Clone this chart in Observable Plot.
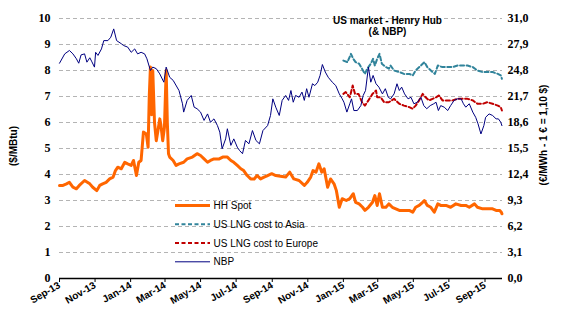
<!DOCTYPE html>
<html>
<head>
<meta charset="utf-8">
<script src="https://cdn.jsdelivr.net/npm/d3@7"></script>
<script src="https://cdn.jsdelivr.net/npm/@observablehq/plot@0.6"></script>
<style>
  html, body { margin: 0; padding: 0; background: #fff; }
  #chart { position: relative; width: 562px; height: 326px; }
</style>
</head>
<body>
<div id="chart"></div>
<script>
const titleLines = ["US market - Henry Hub", "(& NBP)"];
const leftLabel = "($/MBtu)";
const rightLabel = "(€/MWh - 1 € = 1,10 $)";
const seriesNames = ["HH Spot", "US LNG cost to Asia", "US LNG cost to Europe", "NBP"];
const yTicks = [0, 1, 2, 3, 4, 5, 6, 7, 8, 9, 10];
const rightTickLabels = ["0,0", "3,1", "6,2", "9,3", "12,4", "15,5", "18,6", "21,7", "24,8", "27,9", "31,0"];
const xTicks = ["2013-09-01","2013-11-01","2014-01-01","2014-03-01","2014-05-01","2014-07-01","2014-09-01","2014-11-01","2015-01-01","2015-03-01","2015-05-01","2015-07-01","2015-09-01"];
const xDomain = ["2013-09-01", "2015-10-01"];

const hhSpot = [["2013-09-01",3.58],["2013-09-07",3.58],["2013-09-13",3.64],["2013-09-18",3.70],["2013-09-24",3.51],["2013-09-30",3.45],["2013-10-05",3.58],["2013-10-14",3.77],["2013-10-23",3.64],["2013-10-28",3.51],["2013-11-04",3.38],["2013-11-09",3.58],["2013-11-14",3.64],["2013-11-20",3.70],["2013-11-26",3.83],["2013-12-02",3.90],["2013-12-06",4.15],["2013-12-10",4.28],["2013-12-16",4.22],["2013-12-22",4.47],["2013-12-27",4.41],["2014-01-02",4.35],["2014-01-06",4.54],["2014-01-11",3.96],["2014-01-15",4.47],["2014-01-19",4.54],["2014-01-23",5.63],["2014-01-28",5.56],["2014-01-31",5.05],["2014-02-02",7.0],["2014-02-04",8.13],["2014-02-06",6.3],["2014-02-08",8.0],["2014-02-11",6.0],["2014-02-14",5.3],["2014-02-17",5.7],["2014-02-20",6.14],["2014-02-22",5.9],["2014-02-25",5.3],["2014-02-28",5.8],["2014-03-03",8.0],["2014-03-05",6.0],["2014-03-07",4.8],["2014-03-09",4.67],["2014-03-15",4.54],["2014-03-20",4.35],["2014-03-25",4.41],["2014-04-02",4.47],["2014-04-08",4.60],["2014-04-17",4.67],["2014-04-25",4.80],["2014-05-01",4.73],["2014-05-07",4.60],["2014-05-13",4.47],["2014-05-18",4.54],["2014-05-24",4.60],["2014-06-02",4.60],["2014-06-08",4.67],["2014-06-16",4.67],["2014-06-22",4.54],["2014-06-27",4.47],["2014-07-03",4.35],["2014-07-09",4.22],["2014-07-14",4.15],["2014-07-20",3.96],["2014-07-26",3.83],["2014-08-01",3.83],["2014-08-06",3.96],["2014-08-12",3.83],["2014-08-18",3.90],["2014-08-24",3.96],["2014-08-31",4.03],["2014-09-07",3.96],["2014-09-15",3.93],["2014-09-24",3.90],["2014-10-01",4.09],["2014-10-08",3.83],["2014-10-17",3.77],["2014-10-26",3.58],["2014-10-31",3.70],["2014-11-06",3.90],["2014-11-10",4.15],["2014-11-15",4.09],["2014-11-20",4.41],["2014-11-25",4.09],["2014-11-29",4.22],["2014-12-05",3.51],["2014-12-10",3.83],["2014-12-16",3.64],["2014-12-20",3.38],["2014-12-25",2.74],["2014-12-30",3.07],["2015-01-06",3.00],["2015-01-12",3.07],["2015-01-18",3.26],["2015-01-22",2.93],["2015-01-28",2.87],["2015-02-03",2.74],["2015-02-07",2.62],["2015-02-13",2.74],["2015-02-20",2.93],["2015-02-24",3.19],["2015-02-28",2.81],["2015-03-04",3.26],["2015-03-09",2.74],["2015-03-15",2.74],["2015-03-20",2.87],["2015-03-26",2.74],["2015-04-01",2.68],["2015-04-07",2.62],["2015-04-12",2.62],["2015-04-18",2.62],["2015-04-24",2.62],["2015-04-30",2.55],["2015-05-05",2.74],["2015-05-11",2.81],["2015-05-17",2.93],["2015-05-20",3.00],["2015-05-25",2.81],["2015-05-31",2.74],["2015-06-06",2.55],["2015-06-12",2.87],["2015-06-17",2.81],["2015-06-26",2.81],["2015-07-04",2.74],["2015-07-13",2.87],["2015-07-22",2.81],["2015-07-30",2.81],["2015-08-05",2.74],["2015-08-14",2.87],["2015-08-19",2.74],["2015-08-28",2.68],["2015-09-05",2.68],["2015-09-14",2.68],["2015-09-20",2.62],["2015-09-26",2.62],["2015-09-29",2.55],["2015-09-30",2.49]];

const lngAsia = [["2015-01-01",8.38],["2015-01-08",8.32],["2015-01-14",8.64],["2015-01-18",8.45],["2015-01-22",8.32],["2015-01-28",8.26],["2015-02-02",8.07],["2015-02-07",7.87],["2015-02-11",8.07],["2015-02-17",8.26],["2015-02-21",8.45],["2015-02-24",8.19],["2015-02-28",8.45],["2015-03-04",8.64],["2015-03-08",8.26],["2015-03-15",8.13],["2015-03-20",8.07],["2015-03-23",8.19],["2015-03-29",8.00],["2015-04-07",7.94],["2015-04-15",7.87],["2015-04-24",7.87],["2015-04-30",7.81],["2015-05-05",8.00],["2015-05-14",8.19],["2015-05-20",8.32],["2015-05-25",8.13],["2015-06-03",7.94],["2015-06-07",7.87],["2015-06-12",8.19],["2015-06-20",8.13],["2015-06-29",8.13],["2015-07-07",8.13],["2015-07-16",8.19],["2015-07-24",8.19],["2015-08-02",8.19],["2015-08-11",8.13],["2015-08-19",8.00],["2015-08-28",7.94],["2015-09-05",7.94],["2015-09-14",7.94],["2015-09-23",7.87],["2015-09-28",7.81],["2015-09-30",7.68]];

const lngEurope = [["2015-01-01",7.10],["2015-01-05",7.17],["2015-01-12",6.97],["2015-01-17",7.42],["2015-01-21",7.10],["2015-01-27",7.10],["2015-02-02",6.78],["2015-02-07",6.65],["2015-02-13",6.85],["2015-02-20",7.10],["2015-02-26",7.23],["2015-02-28",6.97],["2015-03-06",6.97],["2015-03-12",6.78],["2015-03-20",6.78],["2015-03-29",6.91],["2015-04-07",6.72],["2015-04-15",6.65],["2015-04-24",6.59],["2015-04-30",6.53],["2015-05-05",6.65],["2015-05-11",6.85],["2015-05-17",7.10],["2015-05-22",6.97],["2015-05-28",6.85],["2015-06-03",6.91],["2015-06-09",6.97],["2015-06-14",7.04],["2015-06-20",6.85],["2015-06-29",6.85],["2015-07-07",6.85],["2015-07-16",6.91],["2015-07-24",6.91],["2015-08-02",6.91],["2015-08-11",6.85],["2015-08-19",6.72],["2015-08-28",6.72],["2015-09-05",6.78],["2015-09-14",6.72],["2015-09-23",6.65],["2015-09-28",6.59],["2015-09-30",6.46]];

const nbp = [["2013-09-01",8.28],["2013-09-10",8.64],["2013-09-18",8.77],["2013-09-24",8.64],["2013-09-30",8.45],["2013-10-04",8.28],["2013-10-08",8.60],["2013-10-14",8.64],["2013-10-18",8.32],["2013-10-23",8.49],["2013-10-26",8.36],["2013-10-31",8.13],["2013-11-02",8.70],["2013-11-06",8.58],["2013-11-12",8.83],["2013-11-16",9.15],["2013-11-23",9.15],["2013-11-28",9.28],["2013-12-03",9.60],["2013-12-08",9.15],["2013-12-16",9.03],["2013-12-20",8.96],["2013-12-27",8.90],["2014-01-02",8.70],["2014-01-08",8.83],["2014-01-13",8.64],["2014-01-19",8.70],["2014-01-25",8.64],["2014-01-29",8.45],["2014-02-04",8.00],["2014-02-08",8.13],["2014-02-14",8.07],["2014-02-20",7.87],["2014-02-27",7.55],["2014-03-03",8.13],["2014-03-09",7.74],["2014-03-15",7.62],["2014-03-25",7.23],["2014-03-31",6.72],["2014-04-02",6.40],["2014-04-08",6.85],["2014-04-15",7.04],["2014-04-20",6.59],["2014-04-25",6.53],["2014-05-01",6.40],["2014-05-07",6.08],["2014-05-13",6.33],["2014-05-18",6.01],["2014-05-24",6.14],["2014-05-30",5.88],["2014-06-03",5.63],["2014-06-07",4.99],["2014-06-13",5.37],["2014-06-16",5.76],["2014-06-22",5.12],["2014-06-27",5.37],["2014-07-03",5.05],["2014-07-07",4.92],["2014-07-12",4.80],["2014-07-17",5.31],["2014-07-23",5.18],["2014-07-29",5.69],["2014-08-04",5.31],["2014-08-10",5.18],["2014-08-16",5.69],["2014-08-24",5.88],["2014-08-29",6.27],["2014-09-02",6.91],["2014-09-07",6.59],["2014-09-13",6.27],["2014-09-18",6.85],["2014-09-24",7.04],["2014-09-29",6.85],["2014-10-03",7.23],["2014-10-07",6.78],["2014-10-11",7.04],["2014-10-17",6.97],["2014-10-22",7.17],["2014-10-26",6.85],["2014-10-30",7.30],["2014-11-03",6.97],["2014-11-09",7.49],["2014-11-13",7.42],["2014-11-18",7.55],["2014-11-22",7.81],["2014-11-26",8.23],["2014-12-01",7.94],["2014-12-06",7.74],["2014-12-13",7.55],["2014-12-19",7.42],["2014-12-25",7.10],["2014-12-30",6.91],["2015-01-02",6.78],["2015-01-07",6.40],["2015-01-12",6.72],["2015-01-15",6.91],["2015-01-19",6.46],["2015-01-25",6.46],["2015-01-31",6.65],["2015-02-04",7.04],["2015-02-08",7.23],["2015-02-13",8.13],["2015-02-17",7.55],["2015-02-21",7.81],["2015-02-26",7.49],["2015-03-03",7.36],["2015-03-09",7.10],["2015-03-14",7.30],["2015-03-19",6.97],["2015-03-23",6.91],["2015-03-29",7.10],["2015-04-03",7.49],["2015-04-07",7.23],["2015-04-11",7.36],["2015-04-16",7.10],["2015-04-22",6.91],["2015-04-27",6.97],["2015-05-02",6.72],["2015-05-08",6.78],["2015-05-14",6.97],["2015-05-19",6.65],["2015-05-24",6.53],["2015-05-30",6.65],["2015-06-05",6.72],["2015-06-09",6.78],["2015-06-13",6.46],["2015-06-17",6.65],["2015-06-23",6.59],["2015-06-29",6.46],["2015-07-04",6.65],["2015-07-10",6.85],["2015-07-16",6.91],["2015-07-22",6.91],["2015-07-26",6.72],["2015-07-30",6.59],["2015-08-05",6.72],["2015-08-11",6.40],["2015-08-16",6.20],["2015-08-20",5.95],["2015-08-25",5.56],["2015-08-30",5.88],["2015-09-02",6.20],["2015-09-08",6.33],["2015-09-14",6.27],["2015-09-20",6.14],["2015-09-24",6.14],["2015-09-28",6.01],["2015-09-30",5.88]];

const colors = ["#ff6600", "#31849b", "#c00000", "#000080"];
const widths = [3, 2, 2, 1];
const dashes = [null, "4,2.5", "4,2.5", null];

const parse = d3.utcParse("%Y-%m-%d");
const X = d => parse(d[0]);
const Y = d => d[1];

const lineOpts = (i) => ({x: X, y: Y, stroke: colors[i], strokeWidth: widths[i], strokeDasharray: dashes[i], strokeLinejoin: "round"});

const plot = Plot.plot({
  width: 562,
  height: 326,
  marginLeft: 59,
  marginRight: 60,
  marginTop: 18,
  marginBottom: 48,
  style: {fontFamily: "Liberation Sans, Arial, sans-serif", fontSize: "10px", background: "#fff", overflow: "visible"},
  x: {type: "utc", domain: xDomain.map(parse)},
  y: {domain: [0, 10]},
  marks: [
    Plot.gridY(yTicks.filter(v => v > 0), {stroke: "#b4b4b4", strokeOpacity: 1, strokeDasharray: "4,3"}),
    Plot.line(hhSpot, lineOpts(0)),
    Plot.line(lngAsia, lineOpts(1)),
    Plot.line(lngEurope, lineOpts(2)),
    Plot.line(nbp, lineOpts(3)),
    Plot.ruleY([0], {stroke: "#000", strokeWidth: 1.5}),
    Plot.axisY({ticks: yTicks, tickSize: 0, tickPadding: 9, label: null, fontFamily: "Liberation Serif, Times New Roman, serif", fontSize: 12, fontWeight: "bold", fill: "#000"}),
    Plot.axisY({anchor: "right", ticks: yTicks, tickFormat: d => rightTickLabels[yTicks.indexOf(d)], tickSize: 0, tickPadding: 5, label: null, fontFamily: "Liberation Serif, Times New Roman, serif", fontSize: 12, fontWeight: "bold", fill: "#000"}),
    Plot.axisX({ticks: xTicks.map(s => parse(s)), tickFormat: d3.utcFormat("%b-%y"), tickRotate: -30, tickSize: 4, tickPadding: 2, label: null, fontWeight: "bold", fontSize: 10, fill: "#000", stroke: "#000"})
  ]
});

document.getElementById("chart").appendChild(plot);

const svg = d3.select(plot);
const font = "Liberation Sans, Arial, sans-serif";

// Title
svg.append("text").attr("x", 387.5).attr("y", 24).attr("text-anchor", "middle")
  .attr("font-family", font).attr("font-size", 10).attr("font-weight", "bold").attr("fill", "#000").text(titleLines[0]);
svg.append("text").attr("x", 387.5).attr("y", 35).attr("text-anchor", "middle")
  .attr("font-family", font).attr("font-size", 10).attr("font-weight", "bold").attr("fill", "#000").text(titleLines[1]);

// Axis titles
svg.append("text").attr("transform", "translate(13,146) rotate(-90)").attr("text-anchor", "middle").attr("dy", "0.35em")
  .attr("font-family", font).attr("font-size", 10).attr("font-weight", "bold").attr("fill", "#000").text(leftLabel);
svg.append("text").attr("transform", "translate(543,135) rotate(-90)").attr("text-anchor", "middle").attr("dy", "0.35em")
  .attr("font-family", font).attr("font-size", 10).attr("font-weight", "bold").attr("fill", "#000").text(rightLabel);

// Legend
const legendY = [205.5, 224.3, 243, 261.8];
const leg = svg.append("g").attr("text-anchor", "start");
seriesNames.forEach((name, i) => {
  leg.append("line").attr("x1", 175).attr("x2", 210).attr("y1", legendY[i]).attr("y2", legendY[i])
    .attr("stroke", colors[i]).attr("stroke-width", widths[i]).attr("stroke-dasharray", dashes[i]);
  leg.append("text").attr("x", 213.5).attr("y", legendY[i]).attr("dy", "0.35em").attr("text-anchor", "start")
    .attr("font-family", font).attr("font-size", 10).attr("fill", "#000").text(name);
});
</script>
</body>
</html>
